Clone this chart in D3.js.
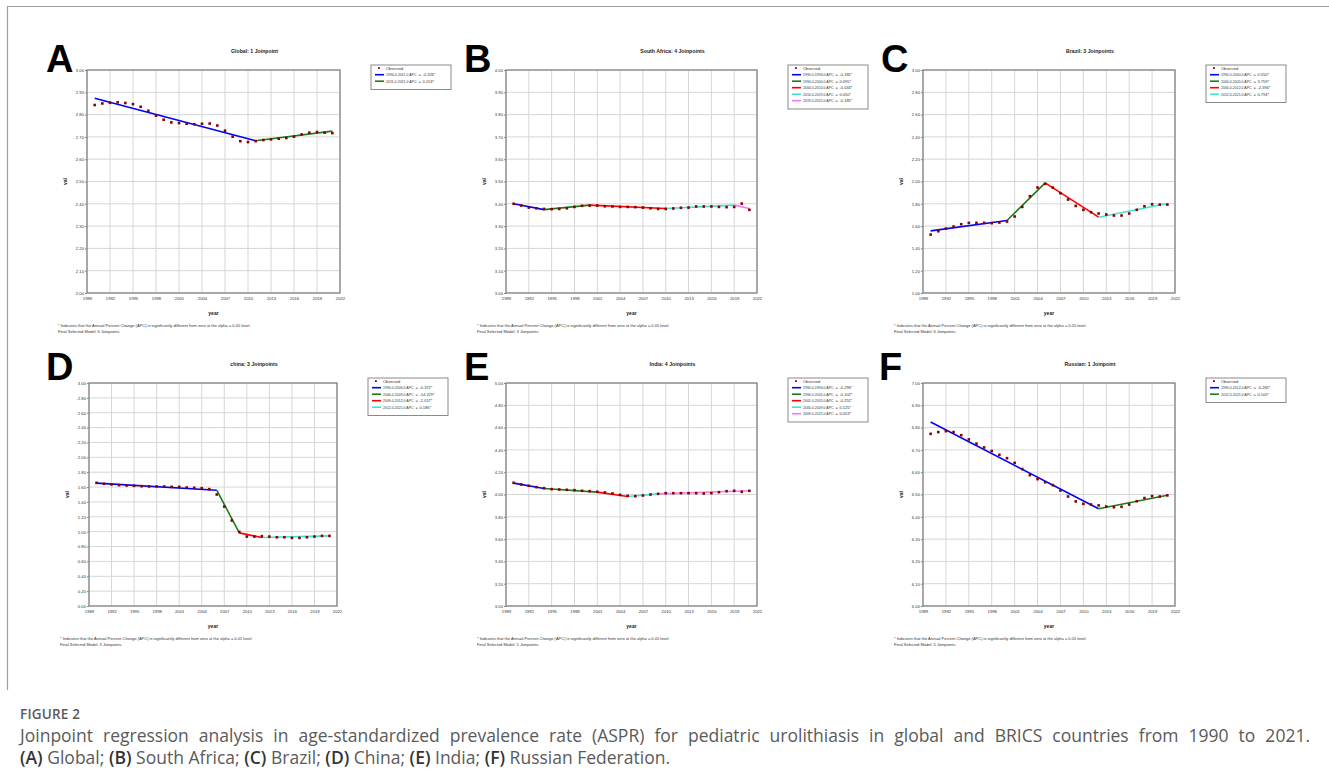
<!DOCTYPE html>
<html>
<head>
<meta charset="utf-8">
<script src="https://cdn.jsdelivr.net/npm/d3@7"></script>
<style>
  body { margin: 0; background: #fff; }
  text { font-family: "Liberation Sans", Arial, sans-serif; }
  .caption { font-family: "Open Sans", sans-serif; }
</style>
</head>
<body>
<div id="figure"></div>
<script>
// data
const years = [1990, 1991, 1992, 1993, 1994, 1995, 1996, 1997, 1998, 1999, 2000, 2001, 2002, 2003, 2004, 2005,
               2006, 2007, 2008, 2009, 2010, 2011, 2012, 2013, 2014, 2015, 2016, 2017, 2018, 2019, 2020, 2021];
const xTickYears = [1989, 1992, 1995, 1998, 2001, 2004, 2007, 2010, 2013, 2016, 2019, 2022];

const globalObserved = [2.843, 2.850, 2.853, 2.855, 2.852, 2.847, 2.835, 2.817, 2.795, 2.777, 2.765, 2.762, 2.759, 2.757, 2.759, 2.760,
                        2.751, 2.728, 2.701, 2.681, 2.677, 2.681, 2.686, 2.689, 2.692, 2.695, 2.701, 2.711, 2.719, 2.722, 2.719, 2.717];
const globalJoinYears = [1990, 2011, 2021];
const globalFitted = [2.873, 2.683, 2.726];
const globalSegments = ["1990.0-2011.0 APC", "2011.0-2021.0 APC"];
const globalApc = ["-0.326*", "0.153*"];

const southAfricaObserved = [3.400, 3.392, 3.383, 3.380, 3.377, 3.376, 3.377, 3.380, 3.386, 3.391, 3.392, 3.392, 3.389, 3.388, 3.386, 3.386,
                             3.385, 3.383, 3.380, 3.377, 3.377, 3.379, 3.382, 3.383, 3.388, 3.388, 3.388, 3.386, 3.385, 3.386, 3.401, 3.373];
const southAfricaJoinYears = [1990, 1994, 2000, 2010, 2019, 2021];
const southAfricaFitted = [3.400, 3.374, 3.394, 3.379, 3.394, 3.379];
const southAfricaSegments = ["1990.0-1994.0 APC", "1994.0-2000.0 APC", "2000.0-2010.0 APC", "2010.0-2019.0 APC", "2019.0-2021.0 APC"];
const southAfricaApc = ["-0.181*", "0.095*", "-0.044*", "0.050*", "-0.185*"];

const brazilObserved = [1.524, 1.554, 1.578, 1.596, 1.617, 1.629, 1.629, 1.629, 1.626, 1.632, 1.641, 1.686, 1.772, 1.868, 1.946, 1.979,
                        1.946, 1.895, 1.838, 1.781, 1.746, 1.725, 1.713, 1.704, 1.695, 1.695, 1.713, 1.746, 1.778, 1.796, 1.793, 1.793];
const brazilJoinYears = [1990, 2000, 2005, 2012, 2021];
const brazilFitted = [1.557, 1.650, 1.988, 1.680, 1.802];
const brazilSegments = ["1990.0-2000.0 APC", "2000.0-2005.0 APC", "2005.0-2012.0 APC", "2012.0-2021.0 APC"];
const brazilApc = ["0.550*", "3.759*", "-2.394*", "0.794*"];

const chinaObserved = [1.657, 1.644, 1.635, 1.626, 1.621, 1.617, 1.612, 1.608, 1.608, 1.608, 1.603, 1.603, 1.594, 1.590, 1.585, 1.572,
                       1.500, 1.338, 1.150, 0.997, 0.934, 0.934, 0.939, 0.934, 0.925, 0.925, 0.916, 0.916, 0.925, 0.934, 0.943, 0.943];
const chinaJoinYears = [1990, 2006, 2009, 2012, 2021];
const chinaFitted = [1.653, 1.558, 0.984, 0.921, 0.943];
const chinaSegments = ["1990.0-2006.0 APC", "2006.0-2009.0 APC", "2009.0-2012.0 APC", "2012.0-2021.0 APC"];
const chinaApc = ["-0.372*", "-14.229*", "-2.017*", "0.186*"];

const indiaObserved = [4.105, 4.090, 4.078, 4.066, 4.057, 4.048, 4.045, 4.042, 4.039, 4.033, 4.030, 4.024, 4.018, 4.009, 3.997, 3.988,
                       3.985, 3.991, 4.000, 4.006, 4.012, 4.012, 4.012, 4.012, 4.012, 4.009, 4.012, 4.021, 4.030, 4.033, 4.024, 4.033];
const indiaJoinYears = [1990, 1994, 2001, 2005, 2009, 2021];
const indiaFitted = [4.102, 4.054, 4.021, 3.982, 4.006, 4.033];
const indiaSegments = ["1990.0-1994.0 APC", "1994.0-2001.0 APC", "2001.0-2005.0 APC", "2005.0-2009.0 APC", "2009.0-2021.0 APC"];
const indiaApc = ["-0.296*", "-0.102*", "-0.251*", "0.125*", "0.053*"];

const russiaObserved = [6.772, 6.780, 6.784, 6.780, 6.766, 6.747, 6.728, 6.711, 6.695, 6.678, 6.663, 6.642, 6.614, 6.587, 6.569, 6.555,
                        6.542, 6.518, 6.491, 6.469, 6.458, 6.455, 6.451, 6.446, 6.443, 6.445, 6.455, 6.470, 6.484, 6.493, 6.491, 6.496];
const russiaJoinYears = [1990, 2012, 2021];
const russiaFitted = [6.825, 6.436, 6.497];
const russiaSegments = ["1990.0-2012.0 APC", "2012.0-2021.0 APC"];
const russiaApc = ["-0.265*", "0.105*"];

const panelLetters = ["A", "B", "C", "D", "E", "F"];
const panelTitles = ["Global: 1 Joinpoint", "South Africa: 4 Joinpoints", "Brazil: 3 Joinpoints",
                     "china: 3 Joinpoints", "India: 4 Joinpoints", "Russian: 1 Joinpoint"];
const yDomains = [[2, 3], [3, 4], [1, 3], [0, 3], [3, 5], [6, 7]];
const yTickSteps = [0.1, 0.1, 0.2, 0.2, 0.2, 0.1];
const finalModels = ["Final Selected Model: 6 Joinpoints.", "Final Selected Model: 3 Joinpoints.", "Final Selected Model: 6 Joinpoints.",
                     "Final Selected Model: 3 Joinpoints.", "Final Selected Model: 5 Joinpoints.", "Final Selected Model: 5 Joinpoints."];
const footnote = "* Indicates that the Annual Percent Change (APC) is significantly different from zero at the alpha = 0.05 level.";

const segmentColors = ["#0000ff", "#1c7a1c", "#ff0000", "#3fe5cf", "#f07df0"];

const panels = [
  {obs: globalObserved, join: globalJoinYears, fit: globalFitted, seg: globalSegments, apc: globalApc},
  {obs: southAfricaObserved, join: southAfricaJoinYears, fit: southAfricaFitted, seg: southAfricaSegments, apc: southAfricaApc},
  {obs: brazilObserved, join: brazilJoinYears, fit: brazilFitted, seg: brazilSegments, apc: brazilApc},
  {obs: chinaObserved, join: chinaJoinYears, fit: chinaFitted, seg: chinaSegments, apc: chinaApc},
  {obs: indiaObserved, join: indiaJoinYears, fit: indiaFitted, seg: indiaSegments, apc: indiaApc},
  {obs: russiaObserved, join: russiaJoinYears, fit: russiaFitted, seg: russiaSegments, apc: russiaApc}
];

// plot-area boxes, one per panel
const boxes = [
  {x0: 87, x1: 340, y0: 70, y1: 293, lx: 46, ly: 72},
  {x0: 506, x1: 757, y0: 70, y1: 293, lx: 464, ly: 72},
  {x0: 923, x1: 1175, y0: 70, y1: 293, lx: 881, ly: 72},
  {x0: 89, x1: 337, y0: 383, y1: 606, lx: 46, ly: 380},
  {x0: 506, x1: 757, y0: 383, y1: 606, lx: 464, ly: 380},
  {x0: 923, x1: 1175, y0: 383, y1: 606, lx: 879, ly: 380}
];

const width = 1329;
const height = 778;

const svg = d3.select("#figure").append("svg")
    .attr("width", width).attr("height", height);

// outer frame (top + left edges)
svg.append("path")
    .attr("d", "M7.5,690 V6.5 H1329")
    .attr("fill", "none").attr("stroke", "#a0a0a0").attr("stroke-width", 1.2);

panels.forEach((p, i) => {
    const b = boxes[i];
    const g = svg.append("g");
    const x = d3.scaleLinear().domain([1989, 2022]).range([b.x0, b.x1]);
    const y = d3.scaleLinear().domain(yDomains[i]).range([b.y1, b.y0]);
    const yTicks = d3.range(yDomains[i][0], yDomains[i][1] + 1e-6, yTickSteps[i]);

    // panel letter
    svg.append("text").attr("x", b.lx).attr("y", b.ly)
        .attr("font-size", 38).attr("font-weight", "bold").attr("fill", "#000")
        .text(panelLetters[i]);

    // title
    g.append("text").attr("x", (b.x0 + b.x1) / 2 + 41).attr("y", b.y0 - 17)
        .attr("text-anchor", "middle").attr("font-size", 5.2).attr("font-weight", "bold")
        .attr("fill", "#222").text(panelTitles[i]);

    // grid
    g.selectAll(".vgrid").data(xTickYears).enter().append("line")
        .attr("x1", d => x(d)).attr("x2", d => x(d))
        .attr("y1", b.y0).attr("y2", b.y1)
        .attr("stroke", "#d6d6d6").attr("stroke-width", 1);
    g.selectAll(".hgrid").data(yTicks).enter().append("line")
        .attr("x1", b.x0).attr("x2", b.x1)
        .attr("y1", d => y(d)).attr("y2", d => y(d))
        .attr("stroke", "#d6d6d6").attr("stroke-width", 1);

    // axes labels
    const yAxis = d3.axisLeft(y).tickValues(yTicks).tickFormat(d3.format(".2f")).tickSize(2).tickPadding(1);
    const ya = g.append("g").attr("transform", `translate(${b.x0},0)`).call(yAxis);
    ya.select(".domain").remove();
    ya.selectAll("text").attr("font-size", 4.2).attr("fill", "#333").attr("font-family", "Liberation Sans");
    ya.selectAll("line").attr("stroke", "#888");

    const xAxis = d3.axisBottom(x).tickValues(xTickYears).tickFormat(d3.format("d")).tickSize(0).tickPadding(4);
    const xa = g.append("g").attr("transform", `translate(0,${b.y1})`).call(xAxis);
    xa.select(".domain").remove();
    xa.selectAll("text").attr("font-size", 4.2).attr("fill", "#333").attr("font-family", "Liberation Sans");

    // plot frame
    g.append("rect").attr("x", b.x0).attr("y", b.y0)
        .attr("width", b.x1 - b.x0).attr("height", b.y1 - b.y0)
        .attr("fill", "none").attr("stroke", "#858585").attr("stroke-width", 1.3);

    g.append("text").attr("x", (b.x0 + b.x1) / 2).attr("y", b.y1 + 22)
        .attr("text-anchor", "middle").attr("font-size", 5).attr("font-weight", "bold")
        .attr("fill", "#222").text("year");
    g.append("text")
        .attr("transform", `translate(${b.x0 - 20},${(b.y0 + b.y1) / 2}) rotate(-90)`)
        .attr("text-anchor", "middle").attr("font-size", 5).attr("font-weight", "bold")
        .attr("fill", "#222").text("val");

    // fitted segments
    p.seg.forEach((s, k) => {
        g.append("line")
            .attr("x1", x(p.join[k])).attr("y1", y(p.fit[k]))
            .attr("x2", x(p.join[k + 1])).attr("y2", y(p.fit[k + 1]))
            .attr("stroke", segmentColors[k]).attr("stroke-width", 1.6);
    });

    // observed points
    g.selectAll(".obs").data(p.obs).enter().append("rect")
        .attr("x", (d, k) => x(years[k]) - 1.3).attr("y", d => y(d) - 1.3)
        .attr("width", 2.6).attr("height", 2.6).attr("fill", "#8b0000");

    // footnote
    g.append("text").attr("x", b.x0 - 29).attr("y", b.y1 + 34)
        .attr("font-size", 4).attr("fill", "#333").text(footnote);
    g.append("text").attr("x", b.x0 - 29).attr("y", b.y1 + 40)
        .attr("font-size", 4).attr("fill", "#333").text(finalModels[i]);

    // legend
    const lx = b.x1 + 31, ly = b.y0 - 5;
    const rows = p.seg.length + 1;
    const lg = g.append("g").attr("transform", `translate(${lx},${ly})`);
    lg.append("rect").attr("width", 80).attr("height", rows * 6.5 + 5)
        .attr("fill", "#fff").attr("stroke", "#8a8a8a").attr("stroke-width", 1);
    lg.append("rect").attr("x", 7).attr("y", 2.2).attr("width", 1.8).attr("height", 1.8).attr("fill", "#8b0000");
    lg.append("text").attr("x", 15).attr("y", 5.2).attr("font-size", 4).attr("fill", "#333").text("Observed");
    p.seg.forEach((s, k) => {
        const ry = 3.2 + (k + 1) * 6.5;
        lg.append("line").attr("x1", 4).attr("x2", 13).attr("y1", ry).attr("y2", ry)
            .attr("stroke", segmentColors[k]).attr("stroke-width", 1.6);
        lg.append("text").attr("x", 15).attr("y", ry + 1.5).attr("font-size", 4)
            .attr("textLength", 30.5).attr("lengthAdjust", "spacingAndGlyphs")
            .attr("fill", "#333").text(s);
        lg.append("text").attr("x", 47.5).attr("y", ry + 1.5).attr("font-size", 4).attr("fill", "#333").text("=");
        lg.append("text").attr("x", 51.5).attr("y", ry + 1.5).attr("font-size", 4).attr("fill", "#333").text(p.apc[k]);
    });
});

// caption
svg.append("text").attr("class", "caption").attr("x", 20).attr("y", 719)
    .attr("font-size", 13.5).attr("font-weight", 600).attr("fill", "#5a5a5a").attr("letter-spacing", 0.2)
    .text("FIGURE 2");

const line1 = svg.append("text").attr("class", "caption").attr("x", 20).attr("y", 742)
    .attr("font-size", 17.5).attr("fill", "#5a5a5a")
    .text("Joinpoint regression analysis in age-standardized prevalence rate (ASPR) for pediatric urolithiasis in global and BRICS countries from 1990 to 2021.");
const natural = line1.node().getComputedTextLength();
if (natural > 1290) {
    line1.attr("textLength", 1290).attr("lengthAdjust", "spacingAndGlyphs");
} else {
    const spaces = line1.text().split(" ").length - 1;
    line1.attr("word-spacing", (1290 - natural) / spaces);
}

const line2 = svg.append("text").attr("class", "caption").attr("x", 20).attr("y", 764)
    .attr("font-size", 17.5).attr("fill", "#5a5a5a");
const captionParts = [["(A)", " Global; "], ["(B)", " South Africa; "], ["(C)", " Brazil; "],
                      ["(D)", " China; "], ["(E)", " India; "], ["(F)", " Russian Federation."]];
captionParts.forEach(([tag, name]) => {
    line2.append("tspan").attr("font-weight", 600).attr("fill", "#333").text(tag);
    line2.append("tspan").text(name);
});
if (line2.node().getComputedTextLength() > 652) {
    line2.attr("textLength", 652).attr("lengthAdjust", "spacingAndGlyphs");
}
</script>
</body>
</html>
